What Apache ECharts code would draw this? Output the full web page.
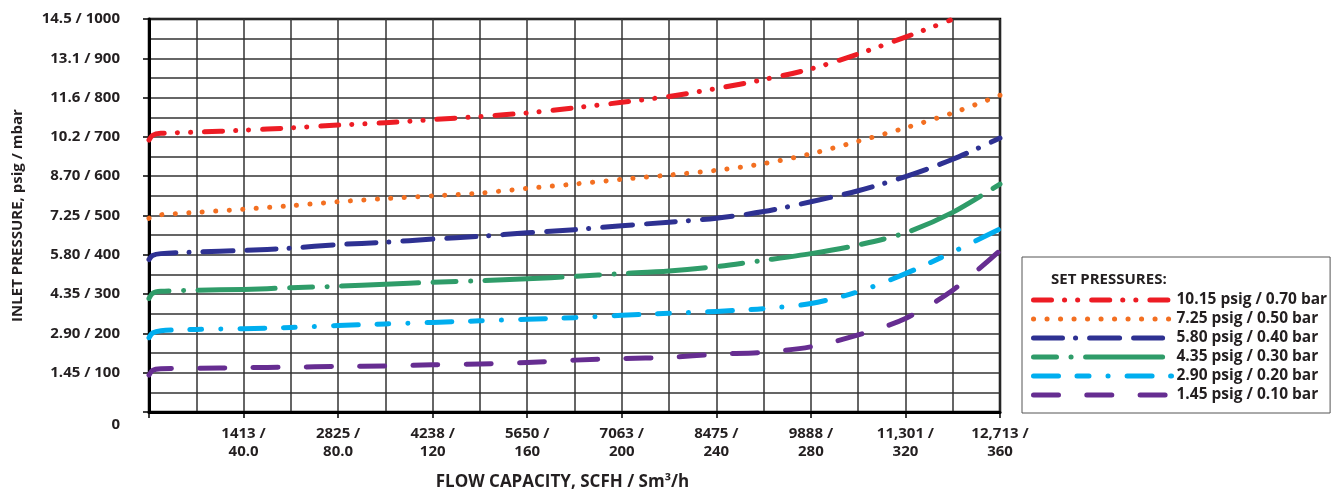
<!DOCTYPE html>
<html>
<head>
<meta charset="utf-8">
<script src="https://cdn.jsdelivr.net/npm/echarts@6/dist/echarts.min.js"></script>
<style>
  html, body { margin: 0; padding: 0; background: #fff; }
  #chart { width: 1332px; height: 496px; }
</style>
</head>
<body>
<div id="chart"></div>
<script>
// flow in Sm3/h (x), inlet pressure in mbar (y)
const flow = [0, 1.5, 5, 20, 40, 60, 80, 100, 120, 140, 160, 180, 200, 220, 240, 260, 280, 300, 320, 340, 360];

const red = [692, 704, 709, 712, 717, 723, 730, 736, 744, 752, 761, 774, 788, 803, 823, 846, 873, 911, 954, 995];
const orange = [493, 498, 502, 508, 516, 525, 535, 543, 550, 557, 569, 580, 592, 603, 615, 632, 657, 689, 723, 761, 806];
const navy = [388, 398, 403, 407, 411, 417, 426, 432, 440, 447, 456, 464, 474, 483, 493, 510, 535, 563, 599, 643, 697];
const green = [289, 302, 307, 310, 312, 316, 320, 325, 330, 334, 339, 345, 352, 359, 370, 386, 403, 425, 456, 508, 580];
const cyan = [189, 201, 207, 210, 212, 215, 220, 224, 228, 232, 236, 240, 246, 251, 256, 263, 276, 306, 352, 407, 466];
const purple = [94, 106, 110, 111, 113, 114, 116, 117, 120, 122, 126, 132, 136, 139, 147, 152, 166, 196, 238, 310, 411];
const redEnd = [339, 997];

const seriesNames = [
  "10.15 psig / 0.70 bar",
  "7.25 psig / 0.50 bar",
  "5.80 psig / 0.40 bar",
  "4.35 psig / 0.30 bar",
  "2.90 psig / 0.20 bar",
  "1.45 psig / 0.10 bar"
];

const yTickValues = [0, 100, 200, 300, 400, 500, 600, 700, 800, 900, 1000];
const yTickLabels = ["0", "1.45 / 100", "2.90 / 200", "4.35 / 300", "5.80 / 400", "7.25 / 500",
  "8.70 / 600", "10.2 / 700", "11.6 / 800", "13.1 / 900", "14.5 / 1000"];
const xTickValues = [40, 80, 120, 160, 200, 240, 280, 320, 360];
const xTickLabels = ["1413 /\n40.0", "2825 /\n80.0", "4238 /\n120", "5650 /\n160", "7063 /\n200",
  "8475 /\n240", "9888 /\n280", "11,301 /\n320", "12,713 /\n360"];

const FONT = "Open Sans";
const INK = "#231f20";

function pairs(ys) {
  return ys.map((y, i) => [flow[i], y]);
}

// red stops before the right edge
const redData = pairs(red.slice(0, 19)).concat([redEnd]);

const styles = [
  { color: "#ed1c24", dash: [18, 13, 0.1, 13, 0.1, 14] },
  { color: "#f36f21", dash: [0.1, 13.4] },
  { color: "#2e3192", dash: [29, 13, 0.1, 14, 30, 14] },
  { color: "#2f9c69", dash: [23, 14.5, 0.1, 14.5, 77, 14.5] },
  { color: "#00aeef", dash: [25, 18.5, 12, 19, 0.1, 19] },
  { color: "#662d91", dash: [25, 28.3] }
];
const datasets = [redData, pairs(orange), pairs(navy), pairs(green), pairs(cyan), pairs(purple)];

const myChart = echarts.init(document.getElementById("chart"));

const gridLine = { color: "#333", width: 1.5 };

const option = {
  animation: false,
  backgroundColor: "#fff",
  textStyle: { fontFamily: FONT, color: INK },
  title: {
    text: "SET PRESSURES:",
    left: 1046,
    top: 267,
    textStyle: { fontFamily: FONT, fontWeight: "bold", fontSize: 15, color: INK }
  },
  legend: {
    orient: "vertical",
    left: 1022,
    top: 257,
    padding: [35, 3, 10, 9],
    borderColor: "#555",
    borderWidth: 1,
    itemWidth: 138,
    itemHeight: 10,
    itemGap: 3,
    textStyle: { fontFamily: FONT, fontWeight: "bold", fontSize: 15.5, lineHeight: 16, color: INK },
    lineStyle: { width: 5 },
    itemStyle: { opacity: 0 },
    data: seriesNames
  },
  grid: {
    left: 149,
    right: 332,
    top: 19,
    bottom: 82,
    show: true,
    borderColor: "#000",
    borderWidth: 2.5
  },
  xAxis: {
    type: "value",
    min: 0,
    max: 360,
    interval: 40,
    name: "FLOW CAPACITY, SCFH / Sm³/h",
    nameLocation: "middle",
    nameGap: 62,
    nameTextStyle: { fontFamily: FONT, fontWeight: "bold", fontSize: 17, color: INK, padding: [0, 24, 0, 0] },
    axisLine: { lineStyle: { color: "#000", width: 3 } },
    axisTick: { show: true, length: 6, lineStyle: { color: "#000", width: 1.5 } },
    axisLabel: {
      margin: 13,
      fontFamily: FONT,
      fontWeight: "bold",
      fontSize: 15,
      lineHeight: 18,
      color: INK,
      formatter: v => {
        const i = xTickValues.indexOf(v);
        return i < 0 ? "" : xTickLabels[i];
      }
    },
    splitLine: { show: true, lineStyle: gridLine },
    minorTick: { show: false, splitNumber: 2 },
    minorSplitLine: { show: true, lineStyle: gridLine }
  },
  yAxis: {
    type: "value",
    min: 0,
    max: 1000,
    interval: 100,
    name: "INLET PRESSURE, psig / mbar",
    nameLocation: "middle",
    nameGap: 124,
    nameTextStyle: { fontFamily: FONT, fontWeight: "bold", fontSize: 15, color: INK },
    axisLine: { show: true, lineStyle: { color: "#000", width: 3 } },
    axisTick: { show: true, length: 6, lineStyle: { color: "#000", width: 1.5 } },
    axisLabel: {
      margin: 29,
      fontFamily: FONT,
      fontWeight: "bold",
      fontSize: 15,
      color: INK,
      formatter: v => {
        const i = yTickValues.indexOf(v);
        if (i < 0) return "";
        return v === 0 ? "{z|0}" : yTickLabels[i];
      },
      rich: {
        z: { fontFamily: FONT, fontWeight: "bold", fontSize: 15, color: INK, padding: [26, 0, 0, 0] }
      }
    },
    splitLine: { show: true, lineStyle: gridLine },
    minorTick: { show: false, splitNumber: 2 },
    minorSplitLine: { show: true, lineStyle: gridLine }
  },
  series: seriesNames.map((name, i) => ({
    name: name,
    type: "line",
    data: datasets[i],
    smooth: 0.3,
    symbol: "none",
    color: styles[i].color,
    lineStyle: {
      color: styles[i].color,
      width: 5,
      cap: "round",
      join: "round",
      type: styles[i].dash
    },
    z: 10 - i
  }))
};

option && myChart.setOption(option);
</script>
</body>
</html>
